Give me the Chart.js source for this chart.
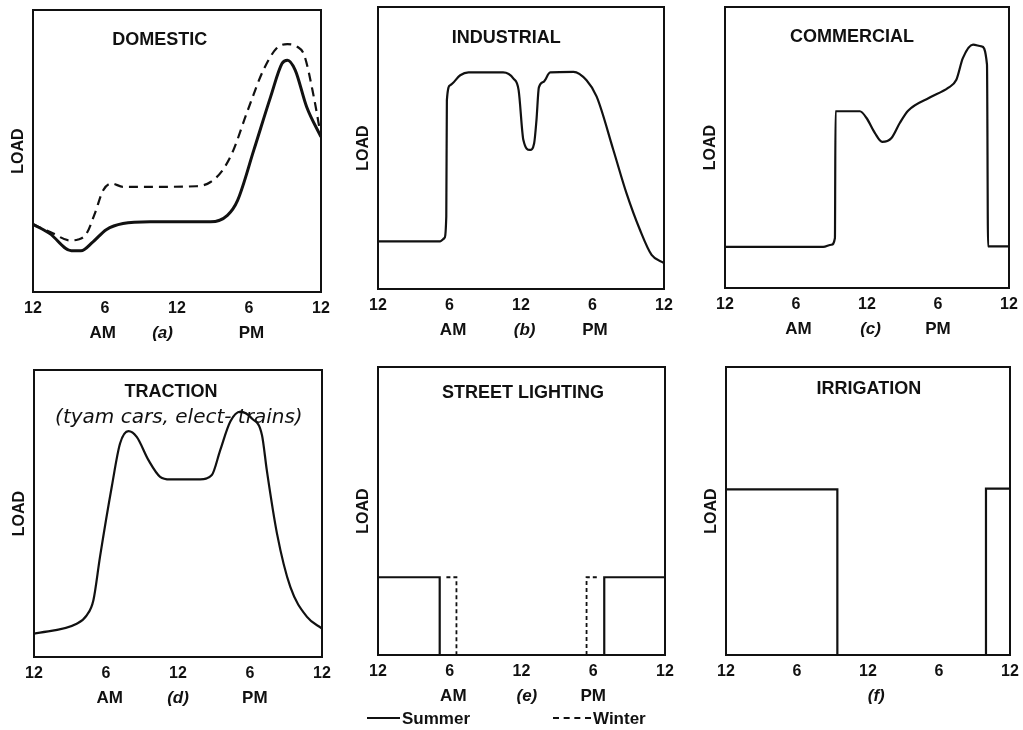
<!DOCTYPE html>
<html>
<head>
<meta charset="utf-8">
<script src="https://cdn.jsdelivr.net/npm/chart.js@4.4.1/dist/chart.umd.min.js"></script>
<style>
  html, body { margin: 0; padding: 0; background: #fff; }
  body { width: 1023px; height: 730px; position: relative; overflow: hidden; font-family: "Liberation Sans", Arial, sans-serif; }
  canvas { position: absolute; }
  .key { position: absolute; top: 709px; font-weight: bold; font-size: 17px; color: #111; line-height: 20px; white-space: nowrap; }
  .key i { display: inline-block; vertical-align: middle; border-top: 2px solid #111; margin: 0 2px 3px 0; }
</style>
</head>
<body>
<canvas id="a"></canvas>
<canvas id="b"></canvas>
<canvas id="c"></canvas>
<canvas id="d"></canvas>
<canvas id="e"></canvas>
<canvas id="f"></canvas>
<div class="key" style="left:367px"><i style="width:33px"></i>Summer</div>
<div class="key" style="left:553px"><i style="width:38px;border-top:2px dashed #111"></i>Winter</div>
<script>
// hour ticks, left to right: midnight, 6 am, noon, 6 pm, midnight
const HOUR_TICKS = ["12", "6", "12", "6", "12"];

// load curves, [hour, relative load] (0 = bottom of frame, 1 = top)
const domesticSummer = [[0, .24], [1.4, .207], [3.2, .146], [4.0, .146], [5.0, .178], [6.1, .221], [7.5, .243], [9.75, .249],
  [14.8, .249], [16.2, .272], [17.05, .325], [18.4, .503], [19.8, .692], [20.75, .81], [21.2, .822], [21.85, .787], [22.8, .657], [24, .55]];
const domesticWinter = [[0, .24], [1.7, .207], [3.06, .183], [3.76, .186], [4.46, .207], [5.15, .278], [5.85, .361], [6.55, .385],
  [7.5, .373], [9.75, .373], [13.6, .375], [14.8, .39], [15.9, .438], [16.7, .503], [17.8, .633], [19.2, .787], [20.3, .864],
  [21.2, .879], [22.0, .87], [22.6, .84], [23.4, .692], [24, .55]];
const industrial = [[0, .169], [5.22, .169], [5.56, .18], [5.73, .257], [5.78, .67], [6.06, .723], [6.9, .758], [7.6, .768],
  [10.5, .768], [11.37, .746], [11.8, .705], [12.2, .528], [12.76, .493], [13.1, .516], [13.3, .6], [13.5, .715], [13.9, .735],
  [14.45, .768], [16.4, .77], [17.5, .74], [18.35, .682], [19.75, .493], [20.85, .34], [21.98, .21], [22.96, .121], [24, .092]];
const commercial = [[0, .146], [8.3, .146], [9.0, .154], [9.29, .178], [9.34, .629], [11.4, .629], [11.96, .605], [12.66, .552],
  [13.28, .52], [14.07, .534], [14.77, .587], [15.47, .631], [17.3, .678], [18.85, .712], [19.55, .741], [20.1, .818],
  [20.96, .866], [21.67, .86], [22.14, .795], [22.23, .148], [24, .148]];
const traction = [[0, .081], [3.56, .116], [4.39, .145], [4.95, .198], [5.5, .349], [6.48, .593], [7.17, .744], [7.87, .787],
  [8.56, .767], [9.54, .686], [10.51, .628], [11.35, .619], [13.85, .619], [14.82, .634], [15.52, .721], [16.35, .82],
  [17.2, .855], [18.16, .831], [19.0, .773], [19.4, .651], [20.25, .43], [21.36, .244], [22.75, .14], [24, .099]];
const streetSummer = [[0, .27], [5.16, .27], [5.16, 0], [18.92, 0], [18.92, .27], [24, .27]];
const streetWinter = [[5.72, .27], [6.56, .27], [6.56, 0], [12, null], [17.44, 0], [17.44, .27], [18.3, .27]];
const irrigation = [[0, .575], [9.41, .575], [9.41, 0], [21.97, 0], [21.97, .578], [24, .578]];

const INK = "#111";
const FONT = "'Liberation Sans', Arial, sans-serif";

const pts = (arr) => arr.map(([x, y]) => ({ x, y }));

function line(data, opts) {
  return Object.assign({
    data: pts(data),
    xAxisID: "x",
    borderColor: INK,
    borderWidth: 2.2,
    pointRadius: 0,
    fill: false,
    spanGaps: false,
    cubicInterpolationMode: "monotone"
  }, opts);
}

// frame + captions inside the plot
const panelText = {
  id: "panelText",
  afterDraw(chart, args, opts) {
    const { ctx, chartArea: a } = chart;
    ctx.save();
    ctx.lineWidth = 2;
    ctx.strokeStyle = INK;
    ctx.strokeRect(a.left, a.top, a.width, a.height);
    ctx.fillStyle = INK;
    ctx.textAlign = "center";
    ctx.textBaseline = "middle";
    (opts.lines || []).forEach((l) => {
      ctx.font = l.font;
      ctx.fillText(l.text, a.left + l.fx * a.width, a.top + l.dy);
    });
    ctx.restore();
  }
};
Chart.register(panelText);

const TITLE_FONT = "bold 18px " + FONT;

const panels = [
  { id: "a", box: [33, 10, 288, 282], capAt: [5.8, 10.8, 18.2], caps: ["AM", "(a)", "PM"],
    lines: [{ text: "DOMESTIC", fx: .44, dy: 30, font: TITLE_FONT }],
    datasets: [line(domesticSummer, { label: "Summer", borderWidth: 3 }),
               line(domesticWinter, { label: "Winter", borderDash: [9, 6] })] },
  { id: "b", box: [378, 7, 286, 282], capAt: [6.3, 12.3, 18.2], caps: ["AM", "(b)", "PM"],
    lines: [{ text: "INDUSTRIAL", fx: .448, dy: 31, font: TITLE_FONT }],
    datasets: [line(industrial, { label: "Industrial" })] },
  { id: "c", box: [725, 7, 284, 281], capAt: [6.2, 12.3, 18.0], caps: ["AM", "(c)", "PM"],
    lines: [{ text: "COMMERCIAL", fx: .447, dy: 30, font: TITLE_FONT }],
    datasets: [line(commercial, { label: "Commercial" })] },
  { id: "d", box: [34, 370, 288, 287], capAt: [6.3, 12.0, 18.4], caps: ["AM", "(d)", "PM"],
    lines: [{ text: "TRACTION", fx: .476, dy: 22, font: TITLE_FONT },
            { text: "(tyam cars, elect- trains)", fx: .503, dy: 48, font: "italic 20px 'DejaVu Sans', sans-serif" }],
    datasets: [line(traction, { label: "Traction" })] },
  { id: "e", box: [378, 367, 287, 288], capAt: [6.3, 12.45, 18.0], caps: ["AM", "(e)", "PM"],
    lines: [{ text: "STREET LIGHTING", fx: .505, dy: 26, font: TITLE_FONT }],
    datasets: [line(streetSummer, { label: "Summer", tension: 0, cubicInterpolationMode: "default" }),
               line(streetWinter, { label: "Winter", borderWidth: 1.8, borderDash: [4, 3], tension: 0, cubicInterpolationMode: "default" })] },
  { id: "f", box: [726, 367, 284, 288], capAt: [12.7], caps: ["(f)"],
    lines: [{ text: "IRRIGATION", fx: .503, dy: 22, font: TITLE_FONT }],
    datasets: [line(irrigation, { label: "Irrigation", tension: 0, cubicInterpolationMode: "default" })] }
];

const PAD = { left: 6, top: 6, right: 13, bottom: 0 };
const Y_W = 24, X_H = 25, CAP_H = 30;

panels.forEach((p) => {
  const [left, top, w, h] = p.box;
  const canvas = document.getElementById(p.id);
  canvas.width = w + PAD.left + Y_W + PAD.right;
  canvas.height = h + PAD.top + X_H + CAP_H;
  canvas.style.left = (left - PAD.left - Y_W) + "px";
  canvas.style.top = (top - PAD.top) + "px";

  new Chart(canvas, {
    type: "line",
    data: { datasets: p.datasets },
    options: {
      responsive: false,
      animation: false,
      devicePixelRatio: 1,
      layout: { padding: PAD, autoPadding: false },
      plugins: {
        legend: { display: false },
        tooltip: { enabled: false },
        panelText: { lines: p.lines }
      },
      scales: {
        x: {
          type: "linear", min: 0, max: 24, position: "bottom", weight: 0,
          grid: { display: false, drawTicks: false },
          border: { display: false },
          ticks: {
            stepSize: 6, autoSkip: false, maxRotation: 0, padding: 7, color: INK,
            font: { family: FONT, size: 16, weight: "bold" },
            callback: (v, i) => HOUR_TICKS[i]
          },
          afterFit: (s) => { s.height = X_H; s.paddingLeft = 0; s.paddingRight = 0; }
        },
        cap: {
          type: "linear", min: 0, max: 24, position: "bottom", weight: 1,
          grid: { display: false, drawTicks: false },
          border: { display: false },
          afterBuildTicks: (s) => { s.ticks = p.capAt.map((v) => ({ value: v })); },
          ticks: {
            autoSkip: false, maxRotation: 0, padding: 6, color: INK,
            font: (ctx) => ({ family: FONT, size: 17, weight: "bold",
              style: (p.caps[ctx.index] || "").startsWith("(") ? "italic" : "normal" }),
            callback: (v, i) => p.caps[i]
          },
          afterFit: (s) => { s.height = CAP_H; s.paddingLeft = 0; s.paddingRight = 0; }
        },
        y: {
          min: 0, max: 1,
          grid: { display: false },
          border: { display: false },
          ticks: { display: false },
          title: { display: true, text: "LOAD", color: INK, padding: 0,
                   font: { family: FONT, size: 16, weight: "bold" } },
          afterFit: (s) => { s.width = Y_W; }
        }
      }
    }
  });
});
</script>
</body>
</html>
